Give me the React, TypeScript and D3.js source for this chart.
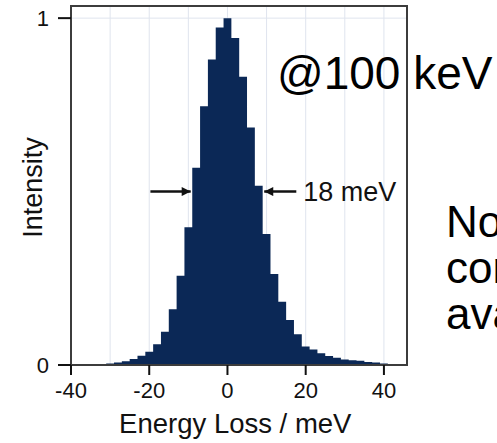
import * as React from 'react';
import * as d3 from 'd3';

// histogram bins, 2 meV wide, centred on even values
const binCenters = [-36, -34, -32, -30, -28, -26, -24, -22, -20, -18, -16, -14, -12, -10, -8, -6, -4, -2, 0,
  2, 4, 6, 8, 10, 12, 14, 16, 18, 20, 22, 24, 26, 28, 30, 32, 34, 36, 38, 40, 42, 44, 46];
const intensity = [0.0005, 0.001, 0.002, 0.004, 0.007, 0.011, 0.017, 0.027, 0.038, 0.06, 0.096, 0.161, 0.257,
  0.397, 0.569, 0.746, 0.881, 0.973, 1.0, 0.943, 0.831, 0.685, 0.517, 0.378, 0.262, 0.182, 0.13, 0.089, 0.053,
  0.045, 0.034, 0.026, 0.021, 0.016, 0.014, 0.012, 0.009, 0.007, 0.004, 0.003, 0.002, 0.0015];
const binWidth = 2;

const xTicks = [-40, -20, 0, 20, 40];
const xGrid = [-30, -20, -10, 0, 10, 20, 30, 40];
const yTicks = [0, 1];

// half maximum crossings used for the FWHM arrows (arrow lengths in meV)
const halfLeft = -9.4;
const halfRight = 9.4;
const halfLevel = 0.5;
const leftArrow = 10.3;
const rightArrow = 8.2;
const fwhmLabel = '18 meV';

// slide text, cut by the right edge of the picture
const sideLines = ['No', 'con', 'ava'];

const font = 'Liberation Sans, Arial, Helvetica, sans-serif';

export default function App() {
  const width = 497;
  const height = 443;

  const x = d3.scaleLinear().domain([-40, 45.9]).range([71, 407]);
  const y = d3.scaleLinear().domain([0, 1.035]).range([365, 6]);

  const pts: [number, number][] = binCenters.map((c, i) => [c - binWidth / 2, intensity[i]]);
  pts.push([binCenters[binCenters.length - 1] + binWidth / 2, intensity[intensity.length - 1]]);

  const area = d3.area<[number, number]>()
    .x(d => x(d[0]))
    .y0(y(0))
    .y1(d => y(d[1]))
    .curve(d3.curveStepAfter);

  const [x0, x1] = x.range();
  const [yb, yt] = y.range();
  const ya = y(halfLevel);

  return (
    <svg width={width} height={height} style={{ position: 'absolute', left: 0, top: 0, background: '#fff' }}>
      <defs>
        <clipPath id="plot">
          <rect x={x0} y={yt} width={x1 - x0} height={yb - yt} />
        </clipPath>
        <marker id="head" viewBox="0 0 10 10" refX="10" refY="5" markerWidth="4" markerHeight="3.6"
          orient="auto" markerUnits="strokeWidth">
          <path d="M0,0 L10,5 L0,10 z" fill="#111" />
        </marker>
      </defs>

      {xGrid.map(v => (
        <line key={'g' + v} x1={x(v)} x2={x(v)} y1={yt} y2={yb} stroke="#dfe4ee" strokeWidth={1} />
      ))}
      <line x1={x0} x2={x1} y1={y(1)} y2={y(1)} stroke="#dfe4ee" strokeWidth={1} />

      <path d={area(pts) || ''} fill="#0b2856" clipPath="url(#plot)" />

      <rect x={x0} y={yt} width={x1 - x0} height={yb - yt} fill="none" stroke="#3c3c3c" strokeWidth={2} />

      {xTicks.map(v => (
        <g key={'x' + v}>
          <line x1={x(v)} x2={x(v)} y1={yb} y2={yb + 10} stroke="#111" strokeWidth={2} />
          <text x={x(v)} y={yb + 33} textAnchor="middle" fontFamily={font} fontSize={22} fill="#111">
            {v}
          </text>
        </g>
      ))}
      {yTicks.map(v => (
        <g key={'y' + v}>
          <line x1={x0 - 13} x2={x0} y1={y(v)} y2={y(v)} stroke="#111" strokeWidth={2} />
          <text x={x0 - 22} y={y(v) + 8} textAnchor="end" fontFamily={font} fontSize={22} fill="#111">
            {v}
          </text>
        </g>
      ))}

      <text x={x(2)} y={433} textAnchor="middle" fontFamily={font} fontSize={27.5} fill="#111">
        Energy Loss / meV
      </text>
      <text transform={`translate(42,${(yt + yb) / 2 + 2}) rotate(-90)`} textAnchor="middle" fontFamily={font}
        fontSize={27} fill="#111">
        Intensity
      </text>

      <line x1={x(halfLeft - leftArrow)} x2={x(halfLeft)} y1={ya} y2={ya} stroke="#111" strokeWidth={2.5}
        markerEnd="url(#head)" />
      <line x1={x(halfRight + rightArrow)} x2={x(halfRight)} y1={ya} y2={ya} stroke="#111" strokeWidth={2.5}
        markerEnd="url(#head)" />
      <text x={x(halfRight + rightArrow) + 7} y={ya + 9} fontFamily={font} fontSize={27} fill="#111">
        {fwhmLabel}
      </text>

      <text x={277} y={89} fontFamily={font} fontSize={46} fill="#000">@100 keV</text>

      {sideLines.map((s, i) => (
        <text key={s} x={446} y={237 + i * 46} fontFamily={font} fontSize={44} fill="#000">{s}</text>
      ))}
    </svg>
  );
}
